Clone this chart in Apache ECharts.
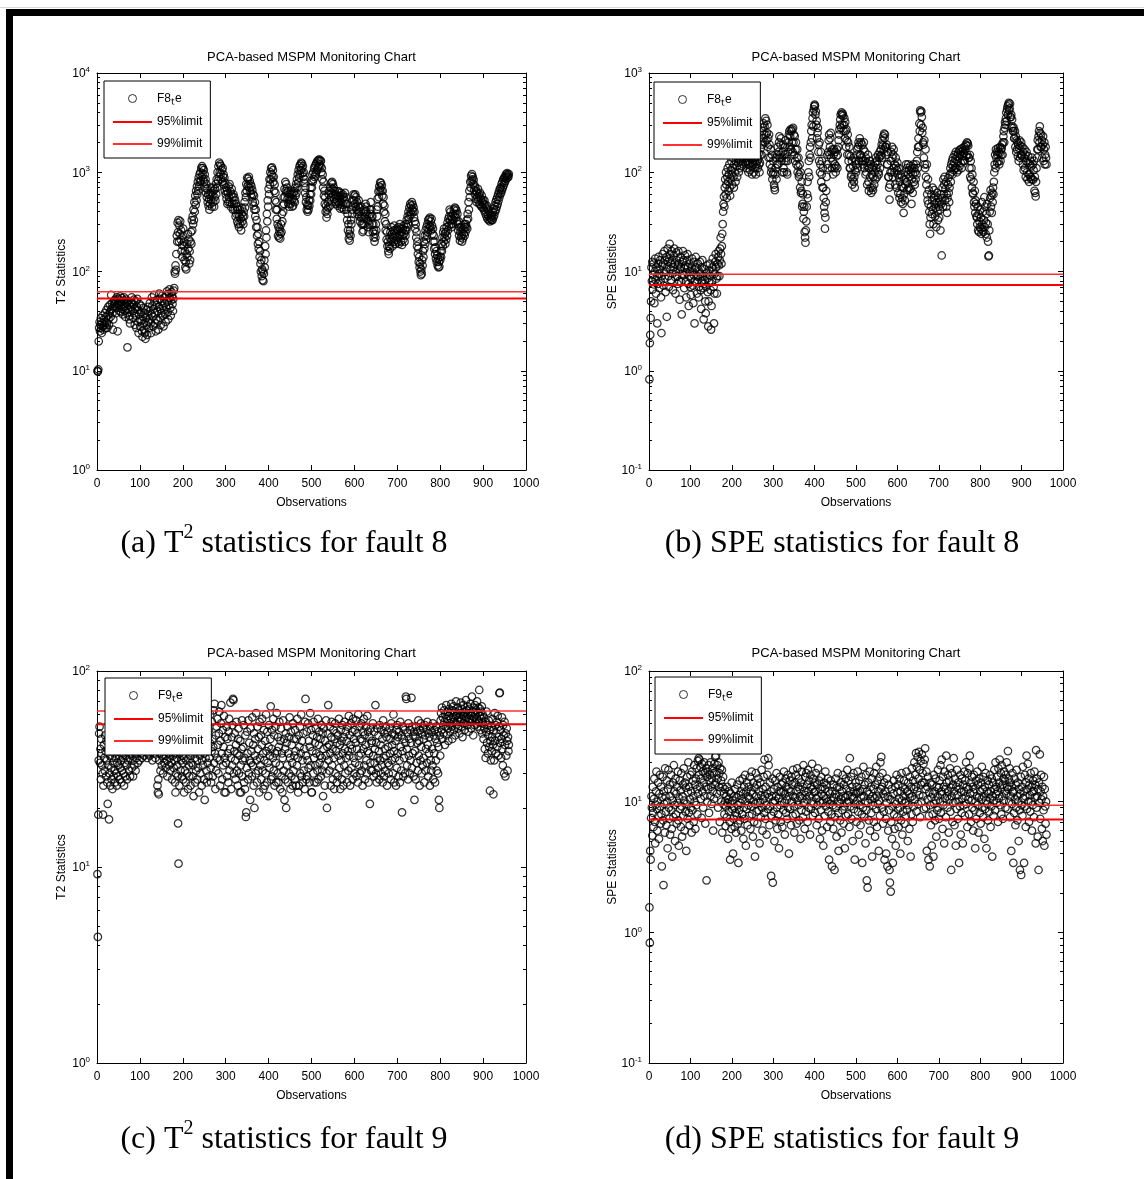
<!DOCTYPE html>
<html>
<head>
<meta charset="utf-8">
<title>PCA-based MSPM Monitoring Charts</title>
<script src="https://cdn.jsdelivr.net/npm/echarts@6/dist/echarts.min.js"></script>
<style>
  html, body { margin: 0; padding: 0; background: #fff; }
  #main { width: 1144px; height: 1179px; }
</style>
</head>
<body>
<div id="main"></div>
<script>
// control limits (95% / 99%)
var t2Limits = [53.5, 62.5];
var speLimits = [7.3, 9.4];

// T2 statistics, fault 8 (observations 1..960)
var t2Fault8 = [
  10, 9.8, 10.3, 19.8, 27, 31, 25, 29, 34, 27, 24, 30, 36, 28, 26, 33, 29, 38, 31, 27,
  35, 41, 30, 27, 36, 44, 33, 29, 38, 46, 40, 35, 58, 42, 48, 38, 26, 33, 45, 50,
  47, 52, 44, 38, 50, 55, 43, 25, 48, 53, 46, 40, 51, 56, 45, 39, 49, 54, 42, 37,
  44, 51, 55, 47, 40, 35, 45, 52, 48, 38, 17.2, 42, 50, 46, 33, 36, 30, 41, 49, 44,
  55, 48, 40, 34, 46, 52, 38, 29, 42, 50, 36, 27, 44, 53, 41, 31, 24, 37, 47, 33,
  28, 39, 45, 32, 25, 22, 35, 43, 30, 26, 38, 24, 21, 34, 41, 29, 23, 36, 44, 31,
  27, 33, 48, 40, 30, 24, 37, 55, 45, 35, 28, 42, 58, 50, 38, 30, 25, 33, 46, 52,
  40, 32, 26, 44, 60, 53, 42, 34, 29, 38, 50, 57, 45, 36, 28, 41, 55, 48, 37, 31,
  44, 58, 63, 50, 39, 33, 46, 60, 66, 54, 43, 36, 51, 62, 57, 47, 40, 53, 64, 68,
  100, 95, 115, 104, 150, 230, 200, 310, 250, 330, 200, 290, 240, 320, 210, 260, 160, 185, 140, 230,
  270, 180, 200, 130, 160, 110, 125, 105, 150, 190, 140, 240, 170, 210, 120, 160, 130, 200, 250, 190,
  330, 260, 360, 300, 420, 330, 500, 400, 580, 470, 650, 520, 720, 600, 800, 650, 880, 720, 950, 800,
  1000, 820, 1100, 900, 1150, 950, 1100, 850, 1050, 800, 950, 700, 850, 620, 760, 560, 680, 500, 600, 460,
  540, 420, 600, 480, 700, 520, 620, 450, 580, 700, 500, 650, 450, 560, 680, 520, 760, 600, 850, 700,
  1000, 820, 1150, 900, 1250, 1000, 1200, 950, 1150, 850, 1050, 800, 1100, 900, 950, 750, 880, 650, 780, 600,
  700, 540, 650, 480, 620, 500, 720, 560, 760, 500, 640, 450, 600, 680, 480, 560, 420, 600, 480, 560,
  420, 520, 360, 480, 380, 450, 320, 420, 300, 380, 280, 360, 420, 300, 340, 260, 380, 440, 320, 360,
  300, 400, 360, 500, 440, 620, 560, 760, 650, 880, 720, 860, 760, 900, 700, 820, 650, 760, 600, 720,
  560, 660, 500, 600, 460, 580, 420, 500, 360, 420, 280, 330, 230, 280, 190, 240, 170, 200, 140, 160,
  120, 100, 130, 90, 105, 82, 100, 80, 95, 130, 110, 180, 150, 260, 220, 380, 320, 520, 450, 680,
  600, 850, 750, 1000, 850, 1100, 950, 1120, 900, 1050, 800, 900, 650, 750, 520, 620, 420, 500, 340, 420,
  300, 230, 280, 220, 250, 270, 215, 240, 300, 250, 380, 320, 460, 400, 560, 480, 680, 560, 800, 650,
  760, 620, 700, 540, 640, 480, 560, 450, 520, 600, 480, 650, 520, 600, 450, 540, 460, 620, 520, 640,
  500, 700, 580, 760, 620, 850, 700, 950, 780, 1050, 880, 1150, 950, 1200, 1050, 1250, 1100, 1220, 980, 1150,
  900, 1000, 780, 850, 620, 700, 500, 560, 420, 470, 400, 460, 420, 520, 460, 600, 520, 700, 600, 820,
  700, 950, 800, 1000, 850, 1100, 900, 1150, 950, 1200, 1000, 1250, 1050, 1300, 1100, 1320, 1150, 1350, 1200, 1300,
  1150, 1300, 1000, 1100, 850, 950, 700, 800, 580, 650, 480, 560, 400, 460, 350, 420, 380, 500, 440, 600,
  520, 650, 460, 700, 560, 780, 620, 800, 680, 760, 600, 700, 540, 650, 500, 600, 480, 580, 520, 640,
  460, 580, 500, 640, 480, 560, 430, 620, 500, 580, 440, 540, 600, 470, 560, 420, 520, 620, 480, 560,
  420, 480, 330, 380, 260, 300, 215, 240, 205, 260, 230, 330, 300, 420, 380, 520, 460, 600, 520, 580,
  480, 600, 450, 560, 420, 500, 380, 460, 400, 520, 360, 440, 320, 400, 350, 450, 300, 360, 250, 300,
  260, 340, 300, 420, 360, 480, 400, 450, 340, 380, 280, 320, 250, 360, 300, 420, 380, 500, 420, 360,
  300, 360, 250, 300, 220, 260, 200, 240, 220, 300, 260, 420, 360, 540, 450, 640, 560, 720, 650, 790,
  700, 780, 650, 740, 580, 650, 480, 560, 400, 460, 320, 380, 260, 300, 210, 250, 180, 200, 160, 150,
  180, 220, 170, 250, 200, 280, 210, 240, 180, 220, 260, 200, 290, 230, 260, 190, 240, 210, 270, 220,
  260, 200, 280, 190, 230, 300, 240, 270, 200, 250, 185, 230, 270, 210, 290, 240, 200, 260, 230, 300,
  260, 330, 280, 360, 300, 400, 340, 440, 370, 480, 400, 460, 380, 500, 420, 470, 400, 440, 350, 400,
  320, 270, 300, 220, 250, 180, 200, 150, 170, 125, 140, 110, 120, 100, 92, 105, 95, 130, 115, 160,
  140, 200, 170, 230, 190, 260, 210, 280, 230, 300, 250, 330, 270, 340, 290, 350, 280, 320, 260, 340,
  290, 240, 270, 200, 230, 170, 200, 150, 175, 135, 160, 125, 145, 115, 135, 110, 125, 112, 140, 130,
  160, 140, 190, 160, 220, 180, 250, 200, 270, 220, 240, 190, 250, 210, 280, 230, 310, 260, 340, 290,
  360, 420, 330, 400, 300, 360, 280, 340, 300, 380, 330, 420, 360, 440, 380, 430, 350, 410, 320, 380,
  300, 260, 320, 230, 280, 205, 250, 220, 280, 230, 200, 250, 215, 270, 240, 300, 230, 280, 250, 300,
  280, 330, 270, 380, 340, 500, 420, 650, 560, 800, 700, 920, 820, 960, 850, 900, 760, 840, 660, 740,
  600, 700, 540, 650, 500, 620, 560, 680, 520, 600, 480, 560, 620, 470, 540, 450, 580, 500, 440, 520,
  480, 420, 520, 400, 470, 380, 440, 360, 460, 340, 420, 370, 330, 400, 350, 320, 380, 340, 360, 330,
  370, 330, 400, 350, 430, 370, 460, 400, 500, 420, 530, 450, 560, 480, 600, 520, 640, 560, 680, 600,
  700, 620, 760, 660, 800, 700, 850, 740, 880, 780, 900, 820, 950, 860, 920, 980, 880, 940, 900, 960
];

// SPE statistics, fault 8
var speFault8 = [
  0.82, 1.9, 2.3, 3.4, 5.0, 11, 8.0, 12.5, 6.6, 9.2, 12, 7.4, 4.8, 10, 13.5, 8.2, 6.0, 11, 9.0, 3.0,
  7.5, 12, 14, 9.5, 6.8, 10.5, 13, 8.0, 5.5, 2.4, 9.0, 11.5, 15, 12, 7.2, 9.8, 16, 13, 8.5, 6.2,
  10, 14, 3.5, 11, 17, 12.5, 9.0, 7.0, 13.5, 19, 15, 10.5, 8.2, 12, 16, 13, 9.5, 6.5, 11, 14.5,
  17, 12, 8.8, 6.0, 10, 15.5, 13, 9.0, 7.5, 11.5, 16, 12, 8.0, 5.2, 10.5, 14, 11, 7.8, 3.7, 9.5,
  12.5, 16, 13, 9.2, 6.8, 10.8, 14.5, 11.5, 8.0, 5.5, 9.8, 13, 15, 11, 7.5, 4.5, 9.0, 12, 10, 7.0,
  5.8, 8.5, 11, 13.5, 10, 7.2, 4.8, 9.2, 12.5, 3.0, 8.0, 10.5, 14, 11, 7.8, 6.0, 9.0, 12, 8.8, 5.5,
  7.0, 10, 12.5, 9.5, 6.5, 4.2, 8.0, 11, 13, 9.0, 6.8, 3.3, 7.5, 10.5, 8.2, 5.0, 3.8, 7.0, 9.5, 11.5,
  8.5, 6.2, 2.8, 5.0, 7.8, 10.2, 12, 9.0, 6.5, 2.6, 4.5, 8.0, 11, 13.5, 10, 7.0, 3.0, 6.0, 9.5, 12.5,
  15, 11, 8.5, 6.0, 9.0, 12, 14, 16, 11.5, 9.0, 13, 17, 22, 15, 12, 18, 24, 30, 40, 48,
  57, 45, 70, 85, 60, 100, 75, 55, 90, 110, 80, 65, 95, 120, 70, 58, 85, 105, 130, 95,
  75, 110, 140, 90, 70, 120, 150, 100, 80, 130, 160, 115, 90, 140, 170, 125, 100, 150, 130, 110,
  140, 160, 130, 115, 150, 180, 140, 120, 160, 190, 150, 125, 170, 140, 110, 130, 165, 145, 120, 100,
  130, 155, 120, 105, 140, 170, 135, 115, 95, 125, 150, 120, 100, 140, 165, 130, 110, 95, 120, 145,
  160, 130, 110, 135, 155, 120, 100, 125, 150, 175, 200, 150, 260, 190, 280, 220, 310, 240, 290, 200,
  350, 240, 330, 210, 250, 300, 180, 220, 140, 240, 190, 120, 140, 170, 100, 110, 150, 85, 95, 130,
  100, 75, 70, 66, 95, 110, 140, 85, 120, 150, 180, 120, 160, 200, 230, 140, 150, 190, 220, 130,
  140, 100, 160, 190, 110, 100, 130, 150, 180, 210, 130, 140, 100, 95, 130, 160, 200, 240, 260, 180,
  230, 270, 170, 260, 200, 270, 160, 280, 200, 240, 150, 230, 130, 170, 200, 120, 140, 170, 100, 115,
  140, 90, 95, 120, 70, 100, 62, 65, 80, 45, 48, 60, 34, 40, 45, 25, 22, 19.5, 26, 32,
  45, 60, 80, 55, 100, 130, 90, 150, 180, 140, 200, 260, 300, 220, 350, 400, 290, 430, 460, 480,
  470, 380, 410, 300, 330, 220, 250, 280, 160, 190, 130, 200, 100, 120, 160, 80, 95, 130, 70, 110,
  70, 55, 45, 39, 27, 35, 50, 65, 90, 120, 150, 110, 160, 210, 240, 150, 180, 220, 250, 140,
  160, 110, 170, 130, 95, 150, 170, 110, 120, 160, 100, 115, 145, 170, 110, 150, 180, 210, 240, 270,
  300, 340, 380, 280, 400, 380, 300, 390, 370, 260, 300, 350, 220, 320, 260, 180, 270, 210, 150, 240,
  200, 130, 150, 180, 110, 110, 145, 90, 95, 130, 75, 85, 115, 140, 80, 90, 70, 105, 130, 100,
  120, 150, 170, 110, 180, 200, 130, 190, 220, 150, 150, 200, 130, 140, 190, 120, 130, 170, 200, 110,
  130, 160, 95, 140, 100, 125, 75, 115, 150, 80, 65, 110, 130, 90, 70, 120, 62, 95, 110, 70,
  66, 90, 115, 75, 100, 125, 85, 140, 110, 130, 90, 120, 150, 100, 95, 140, 160, 110, 145, 170,
  150, 190, 140, 210, 185, 230, 170, 245, 220, 240, 180, 180, 150, 190, 120, 120, 160, 90, 90, 70,
  53, 75, 100, 130, 160, 100, 180, 140, 90, 150, 170, 110, 100, 120, 75, 140, 115, 70, 105, 125,
  95, 62, 110, 88, 55, 80, 60, 95, 50, 72, 90, 55, 48, 70, 39, 60, 85, 52, 75, 100,
  120, 80, 110, 66, 95, 120, 70, 105, 66, 90, 115, 68, 100, 48, 85, 110, 62, 95, 120, 80,
  110, 75, 100, 85, 120, 95, 130, 160, 110, 180, 220, 180, 310, 260, 420, 400, 300, 410, 360, 250,
  280, 200, 190, 140, 210, 120, 110, 170, 90, 75, 120, 60, 52, 85, 48, 66, 40, 30, 24, 35,
  45, 60, 38, 52, 70, 42, 30, 55, 66, 48, 36, 58, 44, 28, 50, 62, 40, 33, 55, 45,
  35, 50, 42, 26, 60, 48, 14.5, 55, 70, 45, 85, 60, 75, 90, 52, 68, 80, 45, 60, 39,
  55, 75, 88, 62, 50, 70, 95, 110, 80, 120, 100, 130, 95, 140, 115, 105, 125, 150, 110, 135,
  160, 110, 145, 100, 130, 155, 105, 140, 165, 115, 150, 170, 125, 160, 110, 145, 175, 130, 165, 130,
  155, 180, 130, 170, 190, 145, 185, 200, 150, 195, 185, 140, 140, 110, 150, 90, 130, 85, 110, 70,
  95, 62, 60, 80, 50, 45, 65, 39, 52, 48, 36, 35, 30, 45, 26, 38, 25, 32, 28, 42,
  27, 35, 24, 50, 30, 26, 40, 25, 33, 56, 28, 45, 24, 31, 38, 22, 48, 30, 20, 14.2,
  14.5, 26, 40, 55, 66, 45, 58, 39, 62, 50, 70, 60, 80, 100, 120, 150, 110, 170, 140, 160,
  125, 150, 175, 130, 160, 120, 155, 180, 130, 170, 150, 175, 190, 150, 200, 230, 260, 200, 280, 320,
  300, 350, 400, 330, 430, 460, 380, 480, 500, 420, 440, 490, 360, 360, 380, 280, 340, 290, 260, 260,
  280, 220, 220, 260, 180, 230, 160, 210, 170, 200, 145, 190, 130, 175, 210, 140, 185, 150, 200, 150,
  145, 180, 120, 160, 105, 140, 170, 110, 150, 90, 130, 160, 100, 85, 125, 145, 95, 80, 120, 95,
  130, 90, 85, 115, 140, 85, 120, 84, 105, 130, 65, 90, 62, 57, 80, 110, 140, 170, 210, 170,
  230, 260, 200, 290, 250, 180, 240, 180, 210, 140, 190, 230, 130, 170, 200, 120, 150, 180, 140, 120
];

// T2 statistics, fault 9
var t2Fault9 = [
  9.2, 4.4, 18.5, 35, 48, 52, 34, 40, 28, 45, 38, 33, 30, 18.5, 26, 42, 36, 31, 47, 39,
  29, 44, 35, 27, 21, 33, 40, 17.5, 30, 37, 26, 43, 32, 28, 36, 25, 41, 34, 29, 38,
  31, 27, 36, 42, 30, 26, 34, 39, 29, 33, 45, 37, 28, 32, 40, 35, 27, 31, 38, 43,
  36, 30, 26, 41, 34, 29, 37, 44, 33, 28, 39, 35, 48, 42, 31, 36, 29, 40, 45, 38,
  32, 37, 43, 29, 35, 40, 33, 46, 38, 31, 42, 36, 50, 44, 34, 39, 47, 41, 35, 52,
  45, 38, 42, 49, 36, 40, 47, 53, 41, 37, 44, 51, 39, 46, 55, 42, 36, 48, 43, 38,
  41, 46, 37, 50, 44, 39, 48, 42, 35, 45, 52, 40, 38, 47, 43, 36, 49, 41, 45, 39,
  26, 24, 28, 23.5, 35, 42, 38, 31, 45, 40, 33, 37, 44, 30, 36, 41, 34, 39, 46, 32,
  37, 43, 35, 29, 40, 47, 38, 33, 42, 36, 31, 45, 39, 34, 28, 41, 37, 44, 32, 38,
  35, 27, 24, 30, 42, 36, 33, 29, 16.7, 10.4, 40, 26, 38, 44, 31, 35, 42, 29, 37, 34,
  28, 36, 24, 41, 31, 46, 27, 35, 52, 30, 39, 25, 44, 33, 29, 48, 37, 26, 42, 34,
  38, 45, 29, 33, 23, 40, 51, 36, 27, 43, 31, 56, 35, 28, 47, 32, 39, 24, 44, 37,
  30, 49, 41, 26, 35, 58, 33, 45, 28, 38, 22, 42, 36, 53, 31, 27, 46, 34, 40, 29,
  50, 36, 43, 60, 32, 27, 39, 55, 45, 29, 41, 63, 34, 68, 38, 25, 47, 31, 52, 36,
  57, 42, 30, 48, 62, 35, 26, 44, 54, 67, 38, 28, 50, 33, 41, 59, 24, 36, 46, 24,
  34, 52, 29, 45, 38, 27, 49, 57, 31, 40, 69, 36, 25, 46, 33, 53, 72, 71, 30, 39,
  48, 35, 28, 42, 55, 31, 38, 26, 45, 51, 30, 37, 24, 44, 33, 24, 40, 56, 29, 35,
  41, 53, 27, 36, 25, 47, 18, 19, 32, 49, 38, 28, 56, 30, 43, 35, 22, 51, 34, 39,
  29, 58, 33, 42, 26, 48, 20, 37, 45, 30, 61, 35, 27, 52, 40, 31, 46, 24, 55, 36,
  33, 47, 28, 42, 57, 31, 38, 25, 50, 35, 26, 44, 30, 60, 39, 27, 49, 34, 23, 41,
  53, 32, 37, 45, 66, 28, 40, 50, 29, 36, 57, 31, 47, 26, 38, 52, 34, 27, 61, 39,
  30, 46, 27, 41, 55, 33, 25, 44, 51, 29, 38, 24, 36, 56, 31, 45, 22, 40, 28, 48,
  20, 43, 33, 52, 27, 38, 46, 30, 58, 36, 25, 49, 29, 42, 34, 26, 54, 31, 45, 37,
  28, 50, 39, 26, 45, 33, 57, 36, 24, 47, 26, 41, 52, 30, 38, 60, 29, 44, 35, 27,
  48, 31, 40, 25, 55, 72, 37, 28, 49, 29, 35, 54, 32, 44, 27, 41, 61, 33, 50, 24,
  24, 39, 47, 30, 55, 36, 27, 43, 33, 51, 38, 27, 46, 31, 57, 28, 42, 49, 34, 37,
  45, 29, 53, 36, 31, 48, 23, 40, 51, 33, 26, 44, 37, 56, 30, 20, 41, 48, 67, 35,
  42, 31, 52, 38, 26, 46, 55, 33, 40, 28, 50, 36, 25, 45, 54, 30, 39, 48, 27, 43,
  29, 47, 37, 57, 32, 42, 25, 50, 35, 44, 28, 53, 38, 26, 46, 33, 55, 40, 30, 49,
  36, 44, 27, 52, 39, 31, 59, 37, 47, 26, 42, 54, 32, 40, 49, 28, 57, 36, 45, 30,
  50, 34, 43, 56, 29, 40, 48, 27, 60, 37, 33, 52, 30, 45, 38, 54, 31, 44, 26, 49,
  40, 57, 33, 47, 28, 42, 52, 35, 30, 59, 39, 49, 27, 38, 46, 21, 34, 51, 31, 43,
  44, 31, 54, 37, 29, 49, 34, 40, 67, 30, 43, 27, 51, 36, 32, 47, 39, 28, 53, 35,
  42, 30, 50, 33, 45, 27, 56, 36, 29, 48, 40, 31, 52, 37, 46, 26, 49, 34, 41, 30,
  33, 51, 38, 45, 28, 54, 35, 42, 48, 30, 60, 39, 27, 47, 36, 44, 26, 50, 32, 53,
  38, 46, 29, 49, 35, 27, 55, 41, 31, 47, 19, 39, 52, 29, 45, 36, 50, 30, 43, 74,
  72, 40, 33, 48, 28, 54, 37, 45, 30, 50, 35, 43, 73, 32, 52, 38, 47, 29, 49, 22,
  39, 46, 28, 52, 34, 43, 49, 31, 56, 37, 44, 26, 50, 35, 54, 41, 30, 48, 33, 51,
  36, 45, 27, 53, 47, 31, 40, 50, 34, 55, 42, 29, 48, 38, 46, 26, 52, 35, 31, 49,
  40, 33, 54, 28, 47, 38, 50, 27, 45, 35, 52, 31, 43, 49, 30, 41, 22, 20, 47, 37,
  56, 61, 50, 65, 45, 58, 53, 48, 63, 55, 42, 60, 52, 67, 47, 57, 62, 51, 44, 59,
  64, 54, 49, 61, 57, 68, 52, 45, 63, 58, 66, 50, 55, 62, 47, 59, 70, 53, 60, 56,
  65, 51, 58, 63, 48, 61, 55, 69, 57, 52, 64, 46, 60, 67, 54, 59, 50, 62, 56, 71,
  58, 63, 53, 66, 60, 49, 57, 64, 55, 68, 61, 51, 59, 74, 56, 62, 47, 65, 58, 53,
  67, 60, 54, 63, 57, 70, 52, 61, 65, 55, 80, 59, 64, 50, 62, 57, 66, 48, 60, 54,
  45, 58, 51, 40, 55, 36, 49, 62, 43, 53, 38, 47, 56, 41, 50, 24.5, 44, 35, 52, 39,
  46, 57, 42, 23.5, 50, 35, 61, 44, 53, 38, 48, 55, 41, 59, 37, 46, 52, 77, 77.5, 43,
  50, 36, 45, 58, 40, 33, 53, 47, 30, 55, 42, 29, 48, 37, 51, 44, 31, 46, 39, 42
];

// SPE statistics, fault 9
var speFault9 = [
  1.55, 0.83, 4.2, 3.6, 7.5, 11, 9.0, 5.5, 13, 8.2, 6.4, 10.5, 15, 7.0, 4.8, 9.5, 12, 17, 8.8, 6.0,
  10, 14, 7.8, 5.2, 11.5, 16, 9.2, 6.8, 13, 8.0, 3.2, 10.8, 15.5, 7.2, 2.3, 12, 9.6, 5.8, 18, 11,
  8.4, 6.6, 14.5, 10, 4.4, 12.5, 17.5, 9.0, 7.4, 13.5, 5.6, 11, 16, 8.6, 6.2, 3.8, 10.2, 14, 7.6, 19,
  12, 9.4, 5.0, 15, 8.0, 11.5, 6.8, 13, 9.8, 17, 7.2, 4.6, 10.6, 14.5, 8.8, 12.2, 6.4, 16.5, 9.2, 5.4,
  11, 13.5, 7.8, 18, 10.2, 6.0, 14, 8.4, 12.8, 4.2, 9.6, 15.5, 7.4, 11.8, 20, 8.2, 13, 6.6, 10.4, 16,
  9.0, 12, 5.8, 17, 8.6, 14.5, 11, 7.0, 19, 10, 13.5, 6.2, 15, 9.4, 18, 12.5, 8.0, 20.5, 11.5, 21.5,
  16, 21, 13, 18.5, 10.5, 15, 7.5, 19.5, 12, 17, 9.0, 14, 20, 11, 16.5, 6.8, 13, 18, 2.5, 15.5,
  10, 17, 12.5, 19, 8.2, 14.5, 16, 11, 20, 13, 9.6, 15, 18, 12, 6.0, 16.5, 10.5, 19.5, 13.5, 22,
  14, 22.5, 17, 11.5, 19, 15, 9.0, 20, 13, 16.5, 7.0, 18, 12, 14.5, 10, 17.5, 5.8, 13, 15.5, 9.5,
  11.5, 8.0, 12.5, 10, 6.5, 9.2, 11, 7.6, 13, 9.8, 5.2, 10.5, 8.4, 12, 7.0, 3.6, 9.6, 11.5, 6.2, 14,
  8.8, 10.2, 4.0, 7.4, 11, 9.0, 6.4, 12.5, 8.2, 5.8, 10.8, 7.8, 13.5, 9.4, 6.8, 3.4, 11.2, 8.6, 14.5, 7.2,
  9.8, 12, 6.0, 10.5, 8.0, 15, 11.5, 5.2, 9.0, 13, 7.4, 16, 10, 4.6, 12, 8.8, 14, 6.6, 11, 9.4,
  13, 7.8, 10.5, 15.5, 6.2, 12, 9.2, 17, 8.0, 11.5, 5.4, 14, 10, 7.0, 12.8, 3.8, 9.6, 16.5, 11, 8.4,
  13.5, 6.8, 10, 15, 8.6, 12, 4.8, 9.8, 14, 7.6, 11.2, 17.5, 9.0, 6.0, 12.5, 10.4, 15.5, 8.2, 21, 11,
  7.4, 13, 9.4, 5.6, 11.5, 16, 8.8, 21.5, 19, 10.8, 6.6, 14, 9.2, 12, 2.7, 7.8, 11, 15, 2.4, 10,
  8.4, 12.5, 5.0, 10.2, 14.5, 7.2, 11, 16.5, 9.0, 6.2, 13, 8.0, 10.6, 4.4, 12, 15.5, 9.4, 7.0, 11.8, 13.5,
  10, 6.4, 14, 8.6, 12, 17, 9.8, 5.6, 11.5, 15, 8.2, 13, 10.4, 7.4, 16, 9.0, 12.5, 4.0, 11, 14.5,
  8.8, 12, 6.6, 15.5, 10, 13.5, 7.8, 17.5, 11, 9.2, 5.8, 14, 10.8, 8.0, 16, 12, 6.8, 18, 10.2, 13,
  9.4, 15, 7.2, 12.5, 11, 5.2, 14, 8.6, 17, 10.6, 13, 7.6, 19, 9.8, 12, 6.2, 15.5, 11.2, 8.4, 16.5,
  10.4, 13.5, 7.0, 17.5, 12, 9.0, 14.5, 11, 5.6, 16, 8.8, 13, 10, 19.5, 12.5, 7.8, 15, 9.6, 11.8, 14,
  8.2, 12, 16.5, 10.6, 6.6, 13.5, 9.4, 18, 11, 7.4, 14.5, 10, 5.2, 12.5, 8.6, 15.5, 11.4, 6.0, 13, 9.8,
  4.6, 11, 14, 7.8, 12.5, 17, 9.2, 10.6, 13.5, 6.4, 10, 15, 8.4, 12, 3.6, 9.6, 11.5, 7.0, 14.5, 10.2,
  8.0, 3.2, 12, 9.4, 6.2, 13.5, 10.8, 3.0, 7.6, 11.5, 15, 9.0, 5.4, 12.8, 10, 16.5, 8.2, 4.2, 11, 13,
  9.6, 7.2, 14, 10.4, 5.8, 12, 8.6, 16, 11, 6.8, 13.5, 9.2, 4.4, 10.8, 15, 7.8, 12.5, 9.8, 17.5, 11.2,
  8.0, 14.5, 10, 6.4, 21.5, 12, 9.2, 15.5, 7.4, 11, 13, 5.0, 10.6, 16.5, 8.8, 12, 3.6, 9.6, 14, 11.5,
  7.0, 13, 10.2, 17, 8.4, 11.8, 5.6, 14.5, 9.4, 12, 6.6, 10.8, 15.5, 8.0, 3.4, 12.5, 9.0, 18.5, 11, 7.6,
  13.5, 10, 4.8, 16, 8.6, 2.5, 12, 2.2, 9.8, 14, 7.2, 11.4, 17, 6.0, 10.4, 13, 8.2, 15, 3.8, 11,
  9.4, 12.5, 7.0, 16.5, 10.6, 5.4, 13.5, 8.8, 18.5, 11, 6.4, 14.5, 9.6, 12, 4.2, 10.2, 15.5, 7.8, 20, 12.5,
  22, 9.0, 13, 16.5, 6.8, 11.5, 8.4, 14, 3.6, 10.8, 12, 7.4, 4.0, 9.8, 15, 3.2, 11, 6.0, 13.5, 8.6,
  3.0, 2.4, 10.4, 2.05, 7.0, 12.5, 5.2, 9.2, 3.4, 11.5, 14.5, 8.0, 6.2, 10, 13, 4.6, 9.6, 16, 7.6, 11.8,
  8.8, 13.5, 6.4, 10.6, 15, 9.0, 4.0, 12, 7.2, 16.5, 10.2, 5.6, 13, 8.4, 11, 14.5, 6.8, 9.8, 12.5, 7.8,
  10, 17, 8.6, 12, 5.0, 14, 9.4, 11.5, 6.2, 15.5, 10.8, 3.8, 13, 8.0, 18, 11, 7.0, 14.5, 9.2, 12.5,
  20, 10.4, 16, 13, 23.5, 8.4, 18.5, 12, 22, 9.6, 15, 24, 11.2, 17.5, 7.6, 20.5, 13.5, 10, 23, 14,
  16.5, 11, 19.5, 8.8, 14, 21, 25.6, 12.5, 9.0, 17, 4.2, 13, 10.4, 15.5, 3.6, 7.8, 11.8, 3.2, 9.4, 14,
  6.6, 10.8, 4.6, 13.5, 8.0, 11.5, 3.8, 16, 9.6, 12, 7.2, 15, 10.2, 5.4, 13, 8.6, 11, 17.5, 9.0, 12.8,
  7.4, 14.5, 10, 19, 8.2, 12, 21, 11.4, 6.2, 15.5, 9.4, 13, 4.8, 17, 10.6, 12.5, 7.6, 22.5, 14, 11,
  9.0, 16, 12, 5.8, 14.5, 10.4, 18, 8.4, 12.8, 3.0, 11, 16.5, 7.0, 13.5, 9.8, 21.5, 12, 6.6, 15, 10,
  4.6, 13, 8.8, 17.5, 11.2, 7.4, 14, 10, 3.4, 12.5, 9.2, 16, 5.6, 11.8, 8.2, 15, 10.6, 4.8, 13.5, 9.4,
  12, 17, 7.8, 14.5, 11, 20, 9.6, 13, 6.4, 16.5, 10.4, 12.5, 8.0, 18, 22.5, 11.5, 14, 7.0, 10.2, 15.5,
  9.0, 13, 6.0, 11.8, 16, 8.6, 12.5, 4.4, 10, 14.5, 7.4, 11, 17, 9.4, 13.5, 5.8, 10.8, 15, 8.2, 12,
  6.8, 14, 10.4, 18.5, 9.0, 12.5, 7.6, 15.5, 11, 5.2, 13, 8.8, 16.5, 10.2, 4.4, 12, 9.6, 14.5, 7.2, 11.5,
  13.5, 8.4, 10.6, 16, 6.4, 12, 9.2, 15, 3.8, 11, 14, 7.8, 10.2, 17.5, 12.5, 8.6, 20, 11.4, 13, 9.8,
  15.5, 12, 7.0, 18, 10.6, 14, 21, 9.4, 12.8, 16.5, 8.0, 19, 11, 13.5, 7.4, 15, 10.2, 17, 12, 14.5,
  9.0, 16, 11.5, 20, 13, 8.8, 24.4, 12.5, 15, 10, 18, 7.6, 14, 11, 4.2, 13, 9.6, 16.5, 11.8, 3.4,
  12, 8.2, 15, 10.4, 6.6, 13.5, 9.0, 17.5, 11, 7.2, 14, 10, 5.0, 12.5, 8.6, 3.0, 11.5, 15.5, 2.75, 9.4,
  13, 7.8, 18.5, 10.6, 12, 3.4, 9.2, 16, 11, 6.4, 14, 22.5, 8.8, 12.5, 19.5, 10, 15, 7.0, 13.5, 11.2,
  8.4, 16.5, 10, 13, 6.0, 11.8, 9.4, 14.5, 12, 7.6, 17, 10.8, 13.5, 4.8, 24.8, 9.0, 15, 11, 5.4, 12.5,
  3.0, 14, 9.8, 23, 7.4, 12, 16, 10.4, 6.2, 13, 5.0, 11, 8.6, 15.5, 4.6, 12.5, 9.2, 6.8, 10, 5.6
];

var xTicks = [0, 1000, 100]; // min, max, step of the observation axis

var sans = '"Liberation Sans", Arial, Helvetica, sans-serif';
var serif = '"Liberation Serif", "Times New Roman", serif';

var panels = [
  {id: 'a', values: t2Fault8, lo: 0, hi: 4, limits: t2Limits, yName: 'T2 Statistics', nameGap: 29, tag: 'F8',
   grid: [97, 73, 429, 397], legendAt: [104, 81], titleAt: [311.5, 57], captionAt: [284, 541],
   caption: '{n|(a) T}{sup|2}{n| statistics for fault 8}'},
  {id: 'b', values: speFault8, lo: -1, hi: 3, limits: speLimits, yName: 'SPE Statistics', nameGap: 30, tag: 'F8',
   grid: [649, 73, 414, 397], legendAt: [654, 82], titleAt: [856, 57], captionAt: [842, 541],
   caption: '{n|(b) SPE statistics for fault 8}'},
  {id: 'c', values: t2Fault9, lo: 0, hi: 2, limits: t2Limits, yName: 'T2 Statistics', nameGap: 29, tag: 'F9',
   grid: [97, 671, 429, 392], legendAt: [105, 678], titleAt: [311.5, 653], captionAt: [284, 1137],
   caption: '{n|(c) T}{sup|2}{n| statistics for fault 9}'},
  {id: 'd', values: speFault9, lo: -1, hi: 2, limits: speLimits, yName: 'SPE Statistics', nameGap: 30, tag: 'F9',
   grid: [649, 671, 414, 392], legendAt: [655, 677], titleAt: [856, 653], captionAt: [842, 1137],
   caption: '{n|(d) SPE statistics for fault 9}'}
];

// positions of the 2..9 minor ticks, in decades
function minorTicks(lo, hi) {
  var out = [];
  for (var k = lo; k < hi; k++) {
    for (var m = 2; m <= 9; m++) out.push(k + Math.log10(m));
  }
  return out;
}

function powLabel(v) {
  return '{b|10}{e|' + Math.round(Math.log10(v)) + '}';
}

var black = {color: '#000', width: 1};
var grids = [], xAxes = [], yAxes = [], series = [], legends = [], graphics = [], legendText = {};

graphics.push({type: 'rect', shape: {x: 0, y: 7, width: 1144, height: 1}, style: {fill: '#d8d8d8'}, silent: true});
graphics.push({type: 'rect', shape: {x: 6, y: 9, width: 1138, height: 7}, style: {fill: '#000'}, silent: true});
graphics.push({type: 'rect', shape: {x: 6, y: 9, width: 7, height: 1170}, style: {fill: '#000'}, silent: true});

panels.forEach(function (p, i) {
  grids.push({left: p.grid[0], top: p.grid[1], width: p.grid[2], height: p.grid[3],
              containLabel: false, outerBoundsMode: 'none', show: false});

  var xBase = {
    type: 'value', gridIndex: i, min: xTicks[0], max: xTicks[1], interval: xTicks[2],
    axisLine: {onZero: false, lineStyle: black},
    axisTick: {inside: true, length: 5, lineStyle: black},
    splitLine: {show: false}
  };
  xAxes.push(Object.assign({}, xBase, {
    position: 'bottom', name: 'Observations', nameLocation: 'middle', nameGap: 27, nameMoveOverlap: false,
    nameTextStyle: {fontSize: 12, color: '#000', fontFamily: sans},
    axisLabel: {margin: 8, fontSize: 12, color: '#000', fontFamily: sans,
                formatter: function (v) { return String(v); }}
  }));
  xAxes.push(Object.assign({}, xBase, {position: 'top', axisLabel: {show: false}}));

  var yMin = Math.pow(10, p.lo), yMax = Math.pow(10, p.hi);
  var yBase = {
    type: 'log', logBase: 10, gridIndex: i, min: yMin, max: yMax, splitNumber: p.hi - p.lo,
    axisLine: {onZero: false, lineStyle: black},
    axisTick: {inside: true, length: 5, lineStyle: black},
    splitLine: {show: false}, minorTick: {show: false}
  };
  yAxes.push(Object.assign({}, yBase, {
    position: 'left', name: p.yName, nameLocation: 'middle', nameGap: p.nameGap, nameRotate: 90,
    nameMoveOverlap: false,
    nameTextStyle: {fontSize: 12, color: '#000', fontFamily: sans},
    axisLabel: {
      margin: 7, formatter: powLabel,
      rich: {
        b: {fontSize: 12, fontFamily: sans, color: '#000', lineHeight: 14, padding: [5, 0, 0, 0], verticalAlign: 'bottom'},
        e: {fontSize: 8, fontFamily: sans, color: '#000', lineHeight: 10, verticalAlign: 'top'}
      }
    }
  }));
  yAxes.push(Object.assign({}, yBase, {position: 'right', axisLabel: {show: false}}));

  var minorBase = {
    type: 'value', gridIndex: i, min: p.lo, max: p.hi,
    axisLine: {show: false, onZero: false}, axisLabel: {show: false}, splitLine: {show: false},
    axisTick: {inside: true, length: 3, lineStyle: black, customValues: minorTicks(p.lo, p.hi)}
  };
  yAxes.push(Object.assign({}, minorBase, {position: 'left'}));
  yAxes.push(Object.assign({}, minorBase, {position: 'right'}));

  var sName = p.id + '-obs', n95 = p.id + '-95', n99 = p.id + '-99';
  // subscript t written with the Unicode subscript letter
  legendText[sName] = '{n|' + p.tag + '}{s|\u209c}{n|e}';
  legendText[n95] = '{n|95%limit}';
  legendText[n99] = '{n|99%limit}';

  series.push({
    type: 'scatter', name: sName, xAxisIndex: 2 * i, yAxisIndex: 4 * i,
    data: p.values.map(function (v, j) { return [j + 1, v]; }),
    symbol: 'circle', symbolSize: 7.5, progressive: 0, silent: true,
    itemStyle: {color: 'rgba(0,0,0,0)', borderColor: '#000', borderWidth: 1.25}
  });
  series.push({
    type: 'line', name: n95, xAxisIndex: 2 * i, yAxisIndex: 4 * i,
    data: [[xTicks[0], p.limits[0]], [xTicks[1], p.limits[0]]],
    symbol: 'none', silent: true, z: 3,
    lineStyle: {color: '#ff0000', width: 2}, itemStyle: {color: '#ff0000'}
  });
  series.push({
    type: 'line', name: n99, xAxisIndex: 2 * i, yAxisIndex: 4 * i,
    data: [[xTicks[0], p.limits[1]], [xTicks[1], p.limits[1]]],
    symbol: 'none', silent: true, z: 3,
    lineStyle: {color: '#ff3030', width: 1.5}, itemStyle: {color: '#ff3030'}
  });

  legends.push({
    orient: 'vertical', left: p.legendAt[0], top: p.legendAt[1],
    data: [
      {name: sName},
      {name: n95, itemStyle: {opacity: 0}},
      {name: n99, itemStyle: {opacity: 0}}
    ],
    selectedMode: false,
    itemWidth: 39, itemHeight: 8, itemGap: 10,
    padding: [10, 8, 8, 8],
    backgroundColor: '#fff', borderColor: '#000', borderWidth: 1,
    itemStyle: {borderWidth: 1},
    formatter: function (name) { return legendText[name]; },
    textStyle: {
      color: '#000', fontSize: 12, fontFamily: sans,
      rich: {
        n: {fontSize: 12, fontFamily: sans, color: '#000'},
        s: {fontSize: 15, fontFamily: sans, color: '#000'}
      }
    }
  });

  graphics.push({
    type: 'text', x: p.titleAt[0], y: p.titleAt[1], silent: true,
    style: {text: 'PCA-based MSPM Monitoring Chart', fill: '#000', fontSize: 13, fontFamily: sans,
            align: 'center', verticalAlign: 'middle', textAlign: 'center', textVerticalAlign: 'middle'}
  });
  graphics.push({
    type: 'text', x: p.captionAt[0], y: p.captionAt[1], silent: true,
    style: {
      text: p.caption, fill: '#000', fontSize: 32, fontFamily: serif,
      align: 'center', verticalAlign: 'middle', textAlign: 'center', textVerticalAlign: 'middle',
      rich: {
        n: {fontSize: 32, fontFamily: serif, fill: '#000', lineHeight: 37, verticalAlign: 'bottom'},
        sup: {fontSize: 20, fontFamily: serif, fill: '#000', lineHeight: 20, verticalAlign: 'top'}
      }
    }
  });
});

var chart = echarts.init(document.getElementById('main'), null, {renderer: 'canvas'});
chart.setOption({
  animation: false,
  backgroundColor: '#fff',
  textStyle: {fontFamily: sans},
  grid: grids,
  xAxis: xAxes,
  yAxis: yAxes,
  legend: legends,
  series: series,
  graphic: graphics
});
</script>
</body>
</html>
